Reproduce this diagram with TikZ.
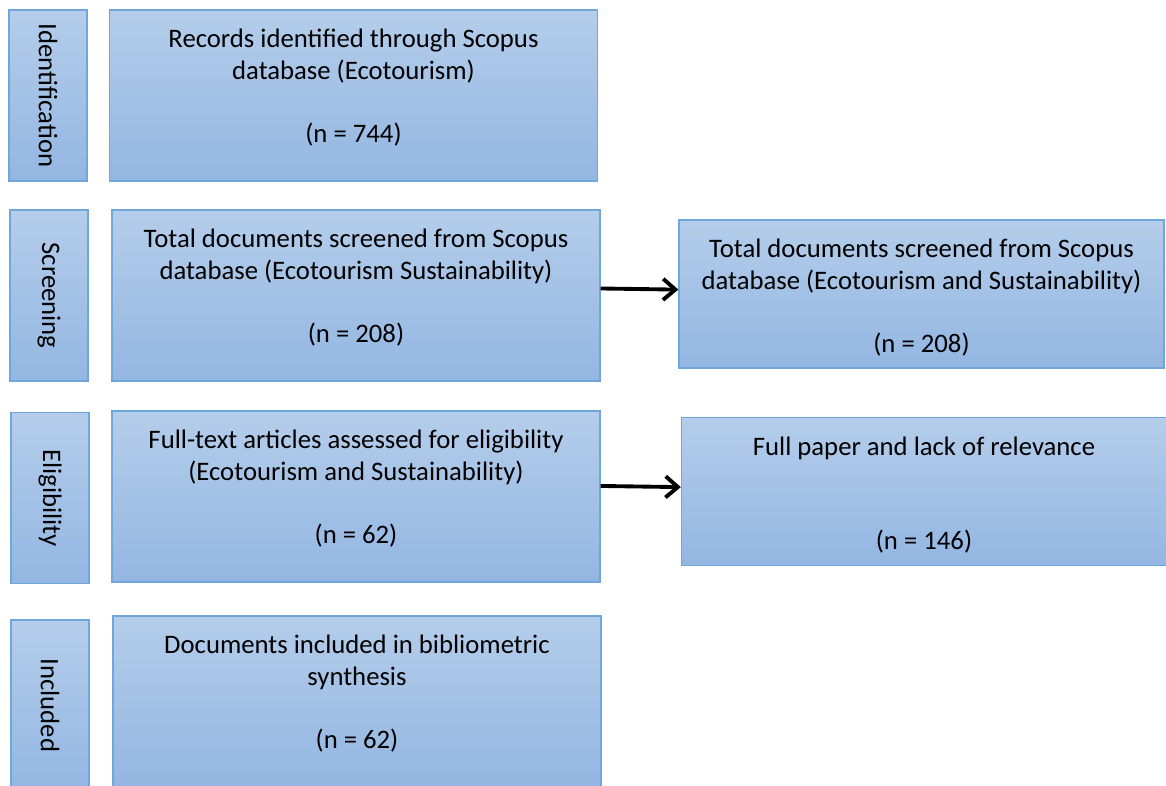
\documentclass[tikz,border=0pt]{standalone}
\usepackage{fontspec}
\setmainfont{Carlito}
\usepackage{graphicx}
\usepackage{xcolor}
\usetikzlibrary{arrows.meta,positioning}
\definecolor{boxtop}{HTML}{B4CDEA}
\definecolor{boxbot}{HTML}{93B6E2}
\definecolor{boxline}{HTML}{6FA6DC}

\begin{document}
\begin{tikzpicture}[
  x=0.02cm, y=-0.02cm,
  panel/.style={draw=boxline, line width=0.8pt, top color=boxtop,
    bottom color=boxbot},
  phase/.style={panel, minimum width=1.56cm, minimum height=3.42cm,
    inner sep=0, font=\fontsize{15.2}{18}\selectfont},
  record/.style={panel, minimum width=9.76cm, minimum height=3.42cm},
  side/.style={panel, minimum width=9.7cm, minimum height=2.96cm},
  info/.style={align=center, inner sep=0, font=\fontsize{15.2}{18}\selectfont},
  >={Straight Barb[length=7pt,width=12pt]}
]
  \useasboundingbox (0,0) rectangle (1166,785);

  % stages
  \node[phase] (ident) at (48,95.5) {\rotatebox{-90}{Identification}};
  \node[phase] (screen) at (49,295.5) {\rotatebox{-90}{Screening}};
  \node[phase] (elig) at (50,498) {\rotatebox{-90}{Eligibility}};
  \node[phase] (incl) at (50,705.5) {\rotatebox{-90}{Included}};

  % main boxes
  \node[record] (records) at (353.5,95.5) {};
  \node[record] (screened) at (356,295.5) {};
  \node[record] (fulltext) at (356,496.5) {};
  \node[record] (included) at (357,701.5) {};
  \node[side] (screened2) at (921.5,294) {};
  \node[side] (excluded) at (924,491.5) {};

  \node[info, below=11pt of records.north] (recordsT)
    {Records identified through Scopus\\database (Ecotourism)\\[18pt](n = 744)};
  \node[info, below=11pt of screened.north] (screenedT)
    {Total documents screened from Scopus\\database (Ecotourism Sustainability)\\[18pt](n = 208)};
  \node[info, below=11pt of fulltext.north] (fulltextT)
    {Full-text articles assessed for eligibility\\(Ecotourism and Sustainability)\\[18pt](n = 62)};
  \node[info, below=11pt of included.north] (includedT)
    {Documents included in bibliometric\\synthesis\\[18pt](n = 62)};
  \node[info, below=11pt of screened2.north] (screened2T)
    {Total documents screened from Scopus\\database (Ecotourism and Sustainability)\\[18pt](n = 208)};
  \node[info, below=11pt of excluded.north] (excludedT)
    {Full paper and lack of relevance\\[36pt](n = 146)};

  \draw[->, line width=2.2pt] ([yshift=4pt]screened.east) -- ([yshift=2.5pt]screened2.west);
  \draw[->, line width=2.2pt] ([yshift=6pt]fulltext.east) -- ([yshift=2.5pt]excluded.west);
\end{tikzpicture}
\end{document}
